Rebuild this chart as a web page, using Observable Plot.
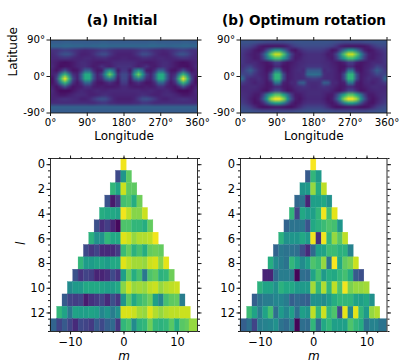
<!DOCTYPE html>
<html><head><meta charset="utf-8">
<script src="https://cdn.jsdelivr.net/npm/d3@7"></script>
<script src="https://cdn.jsdelivr.net/npm/@observablehq/plot@0.6"></script>
<style>
html,body{margin:0;padding:0;background:#fff}
#c{position:relative;width:416px;height:364px;overflow:hidden;font-family:"DejaVu Sans",sans-serif}
#c svg{position:absolute;left:0;top:0;background:transparent}
#c figure{margin:0}
.t{position:absolute;font-weight:bold;font-size:13.6px;line-height:16px;top:12px;white-space:nowrap;transform:translateX(-50%)}
</style></head><body><div id="c">
<div class="t" style="left:122px">(a) Initial</div>
<div class="t" style="left:304px">(b) Optimum rotation</div>
</div>
<script>
const lonTicks=[0,90,180,270,360], latTicks=[-90,0,90];
const lTicks=[0,2,4,6,8,10,12], mTicks=[-10,0,10];
// brightness grid, lon 5..355 by 10, lat 85..-85 by 10
const mapA=[
[31,31,31,32,32,31,31,31,31,31,31,31,32,32,31,31,31,31,31,31,31,31,31,31,32,32,31,31,31,31,31,31,32,32,31,31],
[35,35,35,36,36,35,35,35,34,34,35,35,36,36,35,35,35,35,35,35,35,35,35,35,36,36,35,35,34,34,35,35,36,36,35,35],
[17,17,19,21,20,18,16,14,13,14,15,17,19,19,17,15,14,14,14,14,15,17,19,19,17,15,14,13,14,16,18,20,21,19,17,17],
[15,18,24,28,27,21,15,12,12,13,16,21,25,25,19,14,12,12,12,12,14,19,25,25,21,16,13,12,12,15,21,27,28,24,18,15],
[14,14,16,17,16,14,13,13,14,14,13,14,15,15,13,12,12,13,13,12,12,13,15,15,14,13,14,14,13,13,14,16,17,16,14,14],
[13,11,8,7,8,10,13,15,15,13,11,10,10,11,12,14,15,15,15,15,14,12,11,10,10,11,13,15,15,13,10,8,7,8,11,13],
[14,10,7,8,8,10,13,15,16,13,10,11,16,13,11,14,17,17,17,17,14,11,13,16,11,10,13,16,15,13,10,8,8,7,10,14],
[12,8,14,26,14,8,9,16,32,32,15,9,10,36,54,34,9,18,18,9,34,54,36,10,9,15,32,32,16,9,8,14,26,14,8,12],
[12,16,44,68,44,16,12,30,62,62,28,12,22,55,78,54,14,24,24,14,54,78,55,22,12,28,62,62,30,12,16,44,68,44,16,12],
[8,24,68,98,68,24,12,30,62,62,28,12,15,34,46,32,10,24,24,10,32,46,34,15,12,28,62,62,30,12,24,68,98,68,24,8],
[8,16,44,68,44,16,9,16,34,34,15,9,8,12,16,12,8,20,20,8,12,16,12,8,9,15,34,34,16,9,16,44,68,44,16,8],
[12,8,14,26,14,8,10,11,16,16,11,10,11,10,10,10,11,14,14,11,10,10,10,11,10,11,16,16,11,10,8,14,26,14,8,12],
[14,9,6,6,6,9,12,14,13,12,13,14,13,13,14,14,14,14,14,14,14,14,13,13,14,13,12,13,14,12,9,6,6,6,9,14],
[13,11,9,9,11,13,15,15,14,12,12,13,15,16,14,13,13,13,13,13,13,14,16,15,13,12,12,14,15,15,13,11,9,9,11,13],
[13,14,16,17,16,15,14,12,12,14,19,24,28,26,19,13,11,11,11,11,13,19,26,28,24,19,14,12,12,14,15,16,17,16,14,13],
[15,15,15,15,15,15,15,15,15,14,14,16,18,18,15,14,13,13,13,13,14,15,18,18,16,14,14,15,15,15,15,15,15,15,15,15],
[33,33,33,33,33,33,33,33,33,33,33,33,33,33,33,33,33,33,33,33,33,33,33,33,33,33,33,33,33,33,33,33,33,33,33,33],
[31,31,31,31,31,31,31,31,31,31,31,31,31,31,31,31,31,31,31,31,31,31,31,31,31,31,31,31,31,31,31,31,31,31,31,31]
];
const mapB=[
[28,28,28,27,26,25,24,24,24,24,24,25,26,27,28,28,28,28,28,28,28,28,27,26,25,24,24,24,24,24,25,26,27,28,28,28],
[24,24,22,18,12,9,8,8,8,8,9,12,18,22,24,25,25,25,25,25,25,24,22,18,12,9,8,8,8,8,9,12,18,22,24,24],
[20,17,14,10,8,11,24,42,56,56,40,22,10,8,14,18,20,20,20,20,18,14,8,10,22,40,56,56,42,24,11,8,10,14,17,20],
[18,14,12,10,12,24,48,76,92,92,74,46,22,11,10,14,16,16,16,16,14,10,11,22,46,74,92,92,76,48,24,12,10,12,14,18],
[18,15,13,10,11,20,38,58,70,70,56,36,18,10,12,15,16,16,16,16,15,12,10,18,36,56,70,70,58,38,20,11,10,13,15,18],
[18,15,14,14,12,10,9,12,20,20,12,9,10,12,14,15,16,16,16,16,15,14,12,10,9,12,20,20,12,9,10,12,14,14,15,18],
[17,20,22,16,13,11,8,8,14,14,8,8,11,13,15,16,18,18,18,18,16,15,13,11,8,8,14,14,8,8,11,13,16,22,20,17],
[20,26,32,22,15,12,8,12,38,38,12,8,12,14,16,14,30,30,30,30,14,16,14,12,8,12,38,38,12,8,12,15,22,32,26,20],
[24,22,24,18,14,12,10,28,66,66,26,10,12,14,14,16,36,38,38,36,16,14,14,12,10,26,66,66,28,10,12,14,18,24,22,24],
[36,18,14,14,16,13,10,28,66,66,26,10,12,14,14,15,18,20,20,18,15,14,14,12,10,26,66,66,28,10,13,16,14,14,18,36],
[20,16,14,12,14,13,9,12,40,40,12,10,14,14,30,32,16,15,15,16,32,30,14,14,10,12,40,40,12,9,13,14,12,14,16,20],
[14,14,15,15,13,11,9,10,14,14,10,9,11,14,16,18,16,14,14,16,18,16,14,11,9,10,14,14,10,9,11,13,15,15,14,14],
[15,14,14,13,12,9,8,14,22,22,13,8,9,12,14,14,15,15,15,15,14,14,12,9,8,13,22,22,14,8,9,12,13,14,14,15],
[16,15,13,10,10,20,42,62,74,74,60,40,20,10,10,13,15,15,15,15,13,10,10,20,40,60,74,74,62,42,20,10,10,13,15,16],
[18,15,11,8,12,28,56,86,99,99,84,54,26,11,8,12,14,14,14,14,12,8,11,26,54,84,99,99,86,56,28,12,8,11,15,18],
[20,17,13,8,9,14,28,48,58,58,46,26,13,8,10,14,16,16,16,16,14,10,8,13,26,46,58,58,48,28,14,9,8,13,17,20],
[25,23,20,14,9,7,7,8,9,9,8,7,7,10,15,20,22,22,22,22,20,15,10,7,7,8,9,9,8,7,7,9,14,20,23,25],
[28,28,27,26,25,24,24,24,24,24,24,24,24,25,26,27,28,28,28,28,27,26,25,24,24,24,24,24,24,24,24,25,26,27,28,28]
];
// spectrum cells: row l holds m = -l .. l
const specA=[
[98],
[22,52,75],
[66,58,92,75,75],
[25,7,17,70,72,62,78],
[62,60,60,58,98,90,82,82,92],
[24,13,18,10,2,72,72,66,66,62,76],
[64,50,50,66,60,60,95,92,84,88,88,90,98],
[22,16,20,12,12,12,17,68,76,64,70,62,76,78,76],
[66,55,55,58,58,55,60,60,95,90,86,86,84,92,94,82,96],
[25,15,20,18,10,10,13,22,15,56,76,62,70,40,72,75,64,66,78],
[48,54,54,60,60,60,58,56,56,60,82,92,84,86,84,90,92,84,88,90,92],
[28,20,18,20,8,14,17,20,12,24,16,52,74,60,68,72,78,56,46,70,75,76,42],
[66,58,40,58,56,56,58,56,46,52,42,50,94,94,92,86,84,95,88,84,88,90,90,92,92],
[32,20,28,20,12,22,20,17,28,22,30,34,16,66,70,48,64,66,78,66,64,66,74,62,74,76,84]
];
const specB=[
[99],
[28,66,54],
[52,54,84,62,90],
[33,38,10,56,56,60,50],
[66,20,60,54,56,66,98,70,96],
[32,38,38,40,26,60,64,68,72,70,52],
[64,50,52,52,60,54,98,14,98,66,84,74,90],
[32,40,38,38,36,24,12,34,56,58,68,68,64,64,44],
[62,48,42,38,66,58,48,56,72,68,84,38,99,60,76,80,92],
[10,10,34,42,42,40,1,36,34,58,70,54,62,60,66,70,62,28,24],
[64,58,58,50,64,60,60,54,54,54,86,66,88,66,90,72,98,80,84,84,86],
[30,38,42,42,46,46,42,30,34,32,30,50,50,48,54,62,66,66,66,58,56,60,50],
[68,58,42,58,70,36,54,46,56,36,56,52,90,66,92,66,72,22,96,46,96,66,54,84,88],
[30,36,20,42,44,46,50,38,34,42,1,36,34,66,34,60,66,56,56,56,72,66,62,38,44,44,38]
];
const F='"DejaVu Sans",sans-serif';
const lab=(txt,extra)=>Plot.text([txt],{text:d=>d,fontSize:12,fill:"#000",...extra});
const ink="#1a1a1a";

function mapPanel(grid,x0,x1,showLat){
  const W=36,H=18;
  return Plot.plot({
    width:416,height:364,marginLeft:x0,marginRight:416-x1,marginTop:39.5,marginBottom:364-112.5,
    style:{fontFamily:F,background:"transparent",overflow:"visible"},
    x:{domain:[0,360],axis:null},y:{domain:[-90,90],axis:null},color:{type:"linear",scheme:"viridis",domain:[3,100]},
    marks:[
      Plot.raster(grid.flat(),{width:W,height:H,x1:0,x2:360,y1:90,y2:-90,fill:d=>d}),
      Plot.frame({stroke:ink,strokeWidth:0.9}),
      Plot.axisX({anchor:"bottom",ticks:lonTicks,tickFormat:d=>d+"°",tickSize:3.5,tickPadding:2,fontSize:10.2,label:null,stroke:ink,fill:"#000"}),
      Plot.axisX({anchor:"top",ticks:lonTicks,tickSize:3.5,text:null,label:null,stroke:ink}),
      Plot.axisY({anchor:"left",ticks:latTicks,tickFormat:d=>d+"°",tickSize:3.5,tickPadding:2,fontSize:10.2,label:null,stroke:ink,fill:"#000"}),
      Plot.axisY({anchor:"right",ticks:latTicks,tickSize:3.5,text:null,label:null,stroke:ink}),
      lab("Longitude",{frameAnchor:"bottom",dy:27}),
      showLat?lab("Latitude",{frameAnchor:"left",dx:-37,rotate:-90}):null
    ]
  });
}
function specPanel(rows,x0,x1,showL){
  const cells=rows.flatMap((r,l)=>r.map((v,i)=>({l,m:i-l,v})));
  const half=d=>Math.abs(d.m)===13?0.75:0.5;
  const yMinor=d3.range(-0.5,13.6,0.5), xMinor=d3.range(-12,13,2);
  return Plot.plot({
    width:416,height:364,marginLeft:x0,marginRight:416-x1,marginTop:158,marginBottom:364-331,
    style:{fontFamily:F,background:"transparent",overflow:"visible"},
    x:{domain:[-13.75,13.75],axis:null},y:{domain:[13.5,-0.5],axis:null},color:{type:"linear",scheme:"viridis",domain:[0,100]},
    marks:[
      Plot.rect(cells,{x1:d=>d.m-half(d),x2:d=>d.m+half(d),y1:d=>d.l-0.5,y2:d=>d.l+0.5,fill:"v",stroke:"v",strokeWidth:0.3}),
      Plot.frame({stroke:ink,strokeWidth:0.9}),
      Plot.axisX({anchor:"bottom",ticks:mTicks,tickFormat:d=>d<0?"\u2212"+Math.abs(d):String(d),tickSize:3.5,tickPadding:3,fontSize:11.5,label:null,stroke:ink,fill:"#000"}),
      Plot.axisX({anchor:"bottom",ticks:xMinor,tickSize:2,text:null,label:null,stroke:ink}),
      Plot.axisX({anchor:"top",ticks:mTicks,tickSize:3.5,text:null,label:null,stroke:ink}),
      Plot.axisX({anchor:"top",ticks:xMinor,tickSize:2,text:null,label:null,stroke:ink}),
      Plot.axisY({anchor:"left",ticks:lTicks,tickSize:3.5,tickPadding:2,fontSize:11.5,label:null,stroke:ink,fill:"#000"}),
      Plot.axisY({anchor:"left",ticks:yMinor,tickSize:2,text:null,label:null,stroke:ink}),
      Plot.axisY({anchor:"right",ticks:lTicks,tickSize:3.5,text:null,label:null,stroke:ink}),
      Plot.axisY({anchor:"right",ticks:yMinor,tickSize:2,text:null,label:null,stroke:ink}),
      lab("m",{frameAnchor:"bottom",dy:28,fontStyle:"italic"}),
      showL?lab("l",{frameAnchor:"left",dx:-29,rotate:-90,fontStyle:"italic"}):null
    ]
  });
}
const c=document.getElementById("c");
c.append(mapPanel(mapA,50,197,true),mapPanel(mapB,240,386.5,false),specPanel(specA,50,197,true),specPanel(specB,240,386.5,false));
</script></body></html>
